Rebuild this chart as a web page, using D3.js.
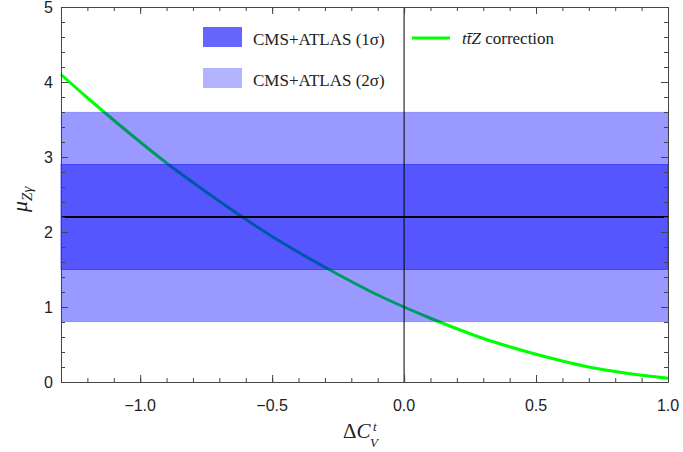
<!DOCTYPE html>
<html>
<head>
<meta charset="utf-8">
<script src="https://cdn.jsdelivr.net/npm/d3@7"></script>
<style>
  body { margin: 0; background: #fff; }
  svg { display: block; }
</style>
</head>
<body>
<svg id="chart" width="683" height="452"></svg>
<script>
// values
const dCV = [-1.3, -1.2, -1.1, -1.0, -0.9, -0.8, -0.7, -0.6, -0.5, -0.4, -0.3, -0.2, -0.1,
  0.0, 0.1, 0.2, 0.3, 0.4, 0.5, 0.6, 0.7, 0.8, 0.9, 1.0]
const muTTZ = [4.10, 3.79, 3.49, 3.20, 2.92, 2.66, 2.41, 2.17, 1.94, 1.73, 1.53, 1.34, 1.16,
  1.00, 0.85, 0.71, 0.58, 0.47, 0.37, 0.28, 0.20, 0.14, 0.09, 0.05]
const band2sigma = [0.8, 3.6]
const band1sigma = [1.5, 2.9]
const central = 2.2
const xTicks = [-1.0, -0.5, 0.0, 0.5, 1.0]
const yTicks = [0, 1, 2, 3, 4, 5]
const legendItems = ['CMS+ATLAS (1\u03c3)', 'CMS+ATLAS (2\u03c3)']

var margin = {top: 7, right: 15, bottom: 70, left: 61}
var width = 683 - margin.left - margin.right
var height = 452 - margin.top - margin.bottom

var svg = d3.select('#chart')
var g = svg.append('g').attr('transform', 'translate(' + margin.left + ',' + margin.top + ')')

var x = d3.scaleLinear().domain([-1.3, 1.0]).range([0, width])
var y = d3.scaleLinear().domain([0, 5]).range([height, 0])

// green curve sits under the translucent bands
var line = d3.line()
  .x(function (d, i) { return x(dCV[i]) })
  .y(function (d) { return y(d) })
  .curve(d3.curveMonotoneX)

g.append('path')
  .datum(muTTZ)
  .attr('d', line)
  .attr('fill', 'none')
  .attr('stroke', '#00ff00')
  .attr('stroke-width', 3)

g.append('rect')
  .attr('x', 0).attr('width', width)
  .attr('y', y(band2sigma[1]))
  .attr('height', y(band2sigma[0]) - y(band2sigma[1]))
  .attr('fill', '#0000ff').attr('fill-opacity', 0.4)
  .attr('stroke', '#0000ff').attr('stroke-opacity', 0.08)

g.append('rect')
  .attr('x', 0).attr('width', width)
  .attr('y', y(band1sigma[1]))
  .attr('height', y(band1sigma[0]) - y(band1sigma[1]))
  .attr('fill', '#0000ff').attr('fill-opacity', 0.44)
  .attr('stroke', '#2222ff').attr('stroke-opacity', 0.6)

g.append('line')
  .attr('x1', 0).attr('x2', width)
  .attr('y1', y(central)).attr('y2', y(central))
  .attr('stroke', '#000').attr('stroke-width', 2)

g.append('line')
  .attr('x1', x(0)).attr('x2', x(0))
  .attr('y1', 0).attr('y2', height)
  .attr('stroke', '#000').attr('stroke-width', 1)

// frame with inward ticks on every side
var frameColor = '#444'
var xMinor = d3.range(-12, 11).map(function (d) { return d / 10 })
var yMinor = d3.range(0, 26).map(function (d) { return d / 5 })

function styleAxis (sel) {
  sel.select('.domain').attr('stroke', frameColor)
  sel.selectAll('.tick line').attr('stroke', frameColor)
}

function frameSide (axisFn, scale, vals, size, shift) {
  var s = g.append('g')
  if (shift) s.attr('transform', shift)
  s.call(axisFn(scale).tickValues(vals).tickSize(size).tickFormat('').tickSizeOuter(0))
    .call(styleAxis)
}

frameSide(d3.axisTop, x, xMinor, 4, 'translate(0,' + height + ')')
frameSide(d3.axisTop, x, xTicks, 7, 'translate(0,' + height + ')')
frameSide(d3.axisBottom, x, xMinor, 4)
frameSide(d3.axisBottom, x, xTicks, 7)
frameSide(d3.axisRight, y, yMinor, 4)
frameSide(d3.axisRight, y, yTicks, 7)
frameSide(d3.axisLeft, y, yMinor, 4, 'translate(' + width + ',0)')
frameSide(d3.axisLeft, y, yTicks, 7, 'translate(' + width + ',0)')

var tickFont = 'Liberation Sans, Arial, sans-serif'

g.selectAll('.xlab').data(xTicks).enter().append('text')
  .attr('x', function (d) { return x(d) })
  .attr('y', height + 29)
  .attr('text-anchor', 'middle')
  .attr('font-family', tickFont).attr('font-size', 16).attr('fill', '#222')
  .text(function (d) { return d3.format('.1f')(d).replace('-', '\u2212') })

g.selectAll('.ylab').data(yTicks).enter().append('text')
  .attr('x', -8)
  .attr('y', function (d) { return y(d) + 6 })
  .attr('text-anchor', 'end')
  .attr('font-family', tickFont).attr('font-size', 16).attr('fill', '#222')
  .text(function (d) { return d })

// axis titles
var serif = 'Liberation Serif, Times New Roman, serif'
var xt = svg.append('text')
  .attr('x', 343).attr('y', 438)
  .attr('font-family', serif).attr('font-size', 21).attr('fill', '#222')
xt.append('tspan').text('\u0394')
xt.append('tspan').attr('font-style', 'italic').text('C')
// superscript and subscript stacked after the C
svg.append('text')
  .attr('x', 373).attr('y', 431)
  .attr('font-family', serif).attr('font-style', 'italic').attr('font-size', 13).attr('fill', '#222')
  .text('t')
svg.append('text')
  .attr('x', 370).attr('y', 447)
  .attr('font-family', serif).attr('font-style', 'italic').attr('font-size', 13).attr('fill', '#222')
  .text('V')

var yt = svg.append('text')
  .attr('transform', 'translate(27,212) rotate(-90)')
  .attr('font-family', serif).attr('font-size', 22).attr('fill', '#222')
yt.append('tspan').attr('font-style', 'italic').text('\u03bc')
yt.append('tspan').attr('font-style', 'italic').attr('font-size', 15).attr('dy', 5).text('Z\u03b3')

// legend
var leg = svg.append('g')
var swatchColors = ['#6666ff', '#b3b3ff']
leg.selectAll('rect').data(legendItems).enter().append('rect')
  .attr('x', 203).attr('y', function (d, i) { return 27 + i * 41 })
  .attr('width', 39).attr('height', 20)
  .attr('fill', function (d, i) { return swatchColors[i] })
leg.selectAll('text').data(legendItems).enter().append('text')
  .attr('x', 253).attr('y', function (d, i) { return 45 + i * 41 })
  .attr('font-family', serif).attr('font-size', 17).attr('fill', '#222')
  .text(function (d) { return d })

leg.append('line')
  .attr('x1', 412).attr('x2', 450).attr('y1', 38).attr('y2', 38)
  .attr('stroke', '#00ff00').attr('stroke-width', 3)
var lt = leg.append('text')
  .attr('x', 462).attr('y', 44)
  .attr('font-family', serif).attr('font-size', 17).attr('fill', '#222')
lt.append('tspan').attr('font-style', 'italic').text('t')
lt.append('tspan').attr('font-style', 'italic').text('t\u0304')
lt.append('tspan').attr('font-style', 'italic').text('Z')
lt.append('tspan').text(' correction')
</script>
</body>
</html>
